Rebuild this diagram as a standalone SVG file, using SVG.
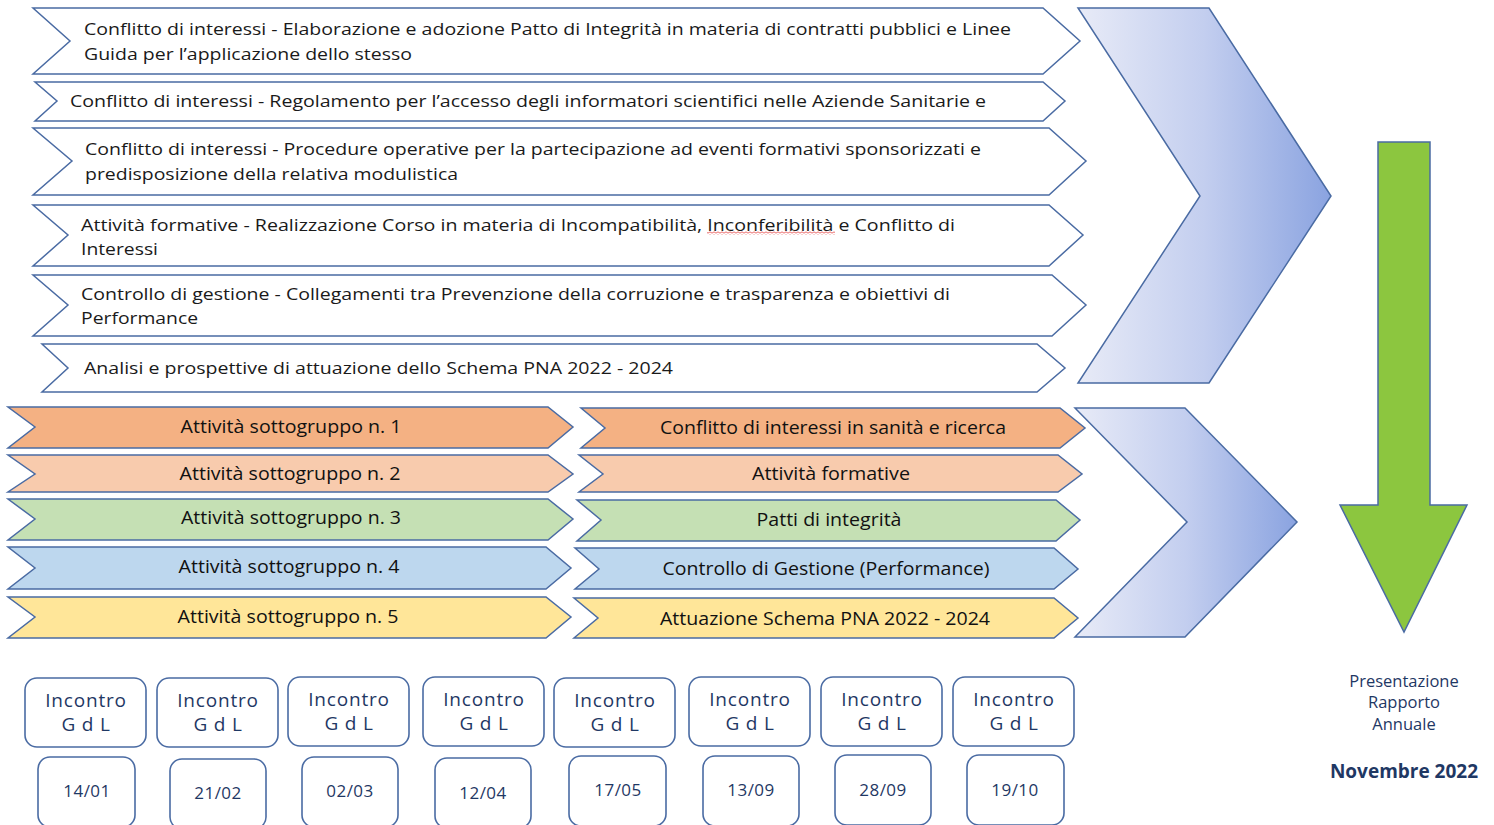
<svg xmlns="http://www.w3.org/2000/svg" width="1494" height="825" viewBox="0 0 1494 825">
<defs>
<linearGradient id="bigGrad" x1="0" y1="0" x2="1" y2="0">
<stop offset="0" stop-color="#e8ebf7"/>
<stop offset="0.5" stop-color="#c3ceef"/>
<stop offset="1" stop-color="#8aa3e0"/>
</linearGradient>
<pattern id="wave" width="4" height="3" patternUnits="userSpaceOnUse">
<path d="M0,2.5 L2,0.5 L4,2.5" stroke="#e02020" fill="none" stroke-width="0.9"/>
</pattern>
</defs>
<style>
.top{fill:#ffffff;stroke:#4a6ba3;stroke-width:1.5}
.big{fill:url(#bigGrad);stroke:#4a6ba3;stroke-width:1.5}
.c1{fill:#f4b183;stroke:#4a6ba3;stroke-width:1.5}
.c2{fill:#f8cbad;stroke:#4a6ba3;stroke-width:1.5}
.c3{fill:#c5e0b4;stroke:#4a6ba3;stroke-width:1.5}
.c4{fill:#bdd7ee;stroke:#4a6ba3;stroke-width:1.5}
.c5{fill:#ffe699;stroke:#4a6ba3;stroke-width:1.5}
.box{fill:#ffffff;stroke:#4a6ba3;stroke-width:1.6}
.t{font-family:"Open Sans","Liberation Sans",sans-serif;font-size:17px;fill:#1a1a1a}
.m{font-family:"Open Sans","Liberation Sans",sans-serif;font-size:18px;fill:#111111;text-anchor:middle}
.b{font-family:"Open Sans","Liberation Sans",sans-serif;font-size:19px;fill:#1f3864;text-anchor:middle;letter-spacing:0.8px}
.d{font-family:"Open Sans","Liberation Sans",sans-serif;font-size:17px;fill:#1f3864;text-anchor:middle;letter-spacing:0.5px}
.p{font-family:"Open Sans","Liberation Sans",sans-serif;font-size:16.5px;fill:#1f3864;text-anchor:middle}
.n{font-family:"Open Sans","Liberation Sans",sans-serif;font-size:19px;font-weight:bold;fill:#1f3864;text-anchor:middle}
</style>

<g id="top1">
<polygon class="top" points="33,8 1043,8 1080,41 1043,74 33,74 70,41"/>
<text class="t" x="84" y="35" textLength="927" lengthAdjust="spacingAndGlyphs">Conflitto di interessi - Elaborazione e adozione Patto di Integrità in materia di contratti pubblici e Linee</text>
<text class="t" x="84" y="60" textLength="328" lengthAdjust="spacingAndGlyphs">Guida per l’applicazione dello stesso</text>
</g>
<g id="top2">
<polygon class="top" points="35,82 1043,82 1065,101 1043,121 35,121 57,101"/>
<text class="t" x="70" y="107" textLength="916" lengthAdjust="spacingAndGlyphs">Conflitto di interessi - Regolamento per l’accesso degli informatori scientifici nelle Aziende Sanitarie e</text>
</g>
<g id="top3">
<polygon class="top" points="33,128 1049,128 1086,161 1049,195 33,195 72,161"/>
<text class="t" x="85" y="155" textLength="896" lengthAdjust="spacingAndGlyphs">Conflitto di interessi - Procedure operative per la partecipazione ad eventi formativi sponsorizzati e</text>
<text class="t" x="85" y="180" textLength="373" lengthAdjust="spacingAndGlyphs">predisposizione della relativa modulistica</text>
</g>
<g id="top4">
<polygon class="top" points="33,205 1049,205 1083,235 1049,266 33,266 68,235"/>
<text class="t" x="81" y="231" textLength="874" lengthAdjust="spacingAndGlyphs">Attività formative - Realizzazione Corso in materia di Incompatibilità, Inconferibilità e Conflitto di</text>
<text class="t" x="81" y="255" textLength="77" lengthAdjust="spacingAndGlyphs">Interessi</text>
<rect x="707" y="231.5" width="128" height="3" fill="url(#wave)"/>
</g>
<g id="top5">
<polygon class="top" points="33,275 1052,275 1086,305 1052,336 33,336 68,305"/>
<text class="t" x="81" y="300" textLength="869" lengthAdjust="spacingAndGlyphs">Controllo di gestione - Collegamenti tra Prevenzione della corruzione e trasparenza e obiettivi di</text>
<text class="t" x="81" y="324" textLength="117" lengthAdjust="spacingAndGlyphs">Performance</text>
</g>
<g id="top6">
<polygon class="top" points="42,344 1037,344 1065,368 1037,392 42,392 68,368"/>
<text class="t" x="84" y="374" textLength="589" lengthAdjust="spacingAndGlyphs">Analisi e prospettive di attuazione dello Schema PNA 2022 - 2024</text>
</g>

<g id="bigChevron1">
<polygon class="big" points="1078,8 1209,8 1331,196 1209,383 1078,383 1200,196"/>
</g>
<g id="bigChevron2">
<polygon class="big" points="1075,408 1185,408 1297,522 1185,637 1075,637 1187,522"/>
</g>

<g id="sub1">
<polygon class="c1" points="8,407 548,407 573,427 548,448 8,448 35,427"/>
<text class="m" x="291" y="433" textLength="221" lengthAdjust="spacingAndGlyphs">Attività sottogruppo n. 1</text>
</g>
<g id="sub2">
<polygon class="c2" points="8,455 548,455 573,474 548,492 8,492 35,474"/>
<text class="m" x="290" y="480" textLength="221" lengthAdjust="spacingAndGlyphs">Attività sottogruppo n. 2</text>
</g>
<g id="sub3">
<polygon class="c3" points="8,499 548,499 573,519 548,540 8,540 35,519"/>
<text class="m" x="291" y="524" textLength="220" lengthAdjust="spacingAndGlyphs">Attività sottogruppo n. 3</text>
</g>
<g id="sub4">
<polygon class="c4" points="8,547 546,547 571,568 546,589 8,589 35,568"/>
<text class="m" x="289" y="573" textLength="221" lengthAdjust="spacingAndGlyphs">Attività sottogruppo n. 4</text>
</g>
<g id="sub5">
<polygon class="c5" points="8,597 546,597 571,617 546,638 8,638 35,617"/>
<text class="m" x="288" y="623" textLength="221" lengthAdjust="spacingAndGlyphs">Attività sottogruppo n. 5</text>
</g>

<g id="topic1">
<polygon class="c1" points="581,408 1060,408 1085,428 1060,448 581,448 605,428"/>
<text class="m" x="833" y="434" textLength="346" lengthAdjust="spacingAndGlyphs">Conflitto di interessi in sanità e ricerca</text>
</g>
<g id="topic2">
<polygon class="c2" points="579,455 1058,455 1082,474 1058,492 579,492 603,474"/>
<text class="m" x="831" y="480" textLength="158" lengthAdjust="spacingAndGlyphs">Attività formative</text>
</g>
<g id="topic3">
<polygon class="c3" points="577,500 1056,500 1080,520 1056,541 577,541 601,520"/>
<text class="m" x="829" y="526" textLength="145" lengthAdjust="spacingAndGlyphs">Patti di integrità</text>
</g>
<g id="topic4">
<polygon class="c4" points="575,548 1054,548 1078,569 1054,589 575,589 599,569"/>
<text class="m" x="826" y="575" textLength="327" lengthAdjust="spacingAndGlyphs">Controllo di Gestione (Performance)</text>
</g>
<g id="topic5">
<polygon class="c5" points="574,598 1054,598 1078,618 1054,638 574,638 598,618"/>
<text class="m" x="825" y="625" textLength="330" lengthAdjust="spacingAndGlyphs">Attuazione Schema PNA 2022 - 2024</text>
</g>

<g id="greenArrow">
<polygon points="1378,142 1430,142 1430,505 1467,505 1404,632 1340,505 1378,505" fill="#8cc63f" stroke="#4a6ba3" stroke-width="1.5"/>
</g>

<g id="finalLabel">
<text class="p" x="1404" y="687">Presentazione</text>
<text class="p" x="1404" y="708">Rapporto</text>
<text class="p" x="1404" y="730">Annuale</text>
<text class="n" x="1404" y="778">Novembre 2022</text>
</g>

<g id="meet1"><rect class="box" x="25" y="678" width="121" height="69" rx="12"/><text class="b" x="86" y="707">Incontro</text><text class="b" x="86" y="731">G d L</text></g>
<g id="meet2"><rect class="box" x="157" y="678" width="121" height="69" rx="12"/><text class="b" x="218" y="707">Incontro</text><text class="b" x="218" y="731">G d L</text></g>
<g id="meet3"><rect class="box" x="288" y="677" width="121" height="69" rx="12"/><text class="b" x="349" y="706">Incontro</text><text class="b" x="349" y="730">G d L</text></g>
<g id="meet4"><rect class="box" x="423" y="677" width="121" height="69" rx="12"/><text class="b" x="484" y="706">Incontro</text><text class="b" x="484" y="730">G d L</text></g>
<g id="meet5"><rect class="box" x="554" y="678" width="121" height="69" rx="12"/><text class="b" x="615" y="707">Incontro</text><text class="b" x="615" y="731">G d L</text></g>
<g id="meet6"><rect class="box" x="689" y="677" width="121" height="69" rx="12"/><text class="b" x="750" y="706">Incontro</text><text class="b" x="750" y="730">G d L</text></g>
<g id="meet7"><rect class="box" x="821" y="677" width="121" height="69" rx="12"/><text class="b" x="882" y="706">Incontro</text><text class="b" x="882" y="730">G d L</text></g>
<g id="meet8"><rect class="box" x="953" y="677" width="121" height="69" rx="12"/><text class="b" x="1014" y="706">Incontro</text><text class="b" x="1014" y="730">G d L</text></g>

<g id="date1"><rect class="box" x="38" y="757" width="97" height="70" rx="12"/><text class="d" x="87" y="797">14/01</text></g>
<g id="date2"><rect class="box" x="170" y="759" width="96" height="70" rx="12"/><text class="d" x="218" y="799">21/02</text></g>
<g id="date3"><rect class="box" x="302" y="757" width="96" height="70" rx="12"/><text class="d" x="350" y="797">02/03</text></g>
<g id="date4"><rect class="box" x="435" y="758" width="96" height="70" rx="12"/><text class="d" x="483" y="799">12/04</text></g>
<g id="date5"><rect class="box" x="569" y="756" width="97" height="70" rx="12"/><text class="d" x="618" y="796">17/05</text></g>
<g id="date6"><rect class="box" x="703" y="756" width="96" height="70" rx="12"/><text class="d" x="751" y="796">13/09</text></g>
<g id="date7"><rect class="box" x="835" y="755" width="96" height="70" rx="12"/><text class="d" x="883" y="796">28/09</text></g>
<g id="date8"><rect class="box" x="967" y="755" width="97" height="70" rx="12"/><text class="d" x="1015" y="796">19/10</text></g>

<g id="connectors"></g>
</svg>
